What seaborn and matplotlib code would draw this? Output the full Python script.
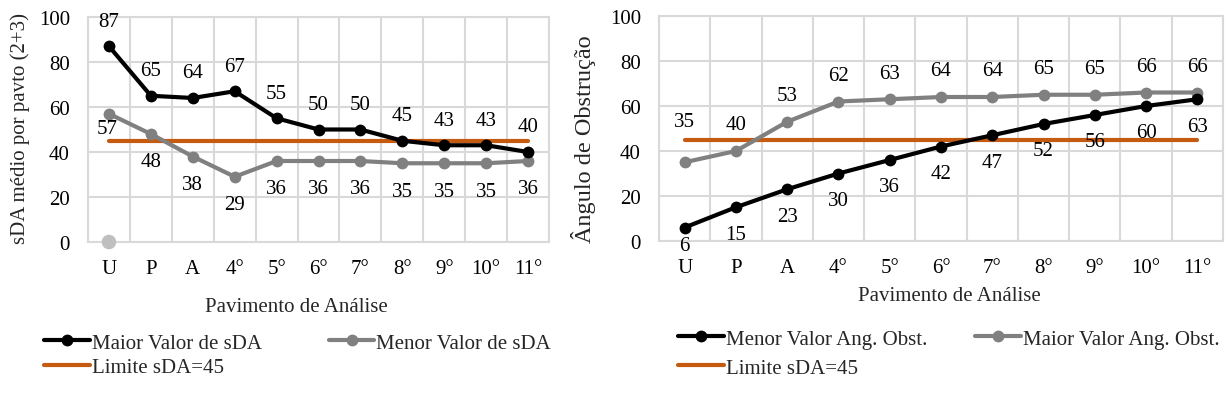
import numpy as np
import matplotlib
matplotlib.use("Agg")
import matplotlib.pyplot as plt
import seaborn as sns

# Floors analysed (U, P, A, then 4th to 11th)
floors = ["U", "P", "A", "4°", "5°", "6°", "7°", "8°", "9°", "10°", "11°"]

# Left panel: sDA per floor
maior_sda = [87, 65, 64, 67, 55, 50, 50, 45, 43, 43, 40]
menor_sda = [57, 48, 38, 29, 36, 36, 36, 35, 35, 35, 36]
limite_sda = [45, 45, 45, 45, 45, 45, 45, 45, 45, 45, 45]
ponto_extra_cat = ["U"]
ponto_extra_val = [0]

# Right panel: obstruction angle per floor
menor_ang = [6, 15, 23, 30, 36, 42, 47, 52, 56, 60, 63]
maior_ang = [35, 40, 53, 62, 63, 64, 64, 65, 65, 66, 66]

sns.set_theme(style="white")
plt.rcParams["font.family"] = ["Liberation Serif", "DejaVu Serif"]
plt.rcParams["font.size"] = 15

BLACK = "#000000"
GRAY = "#808080"
ORANGE = "#C55A11"
GRID = "#D9D9D9"
FS = 15

W, H = 1225, 410
fig = plt.figure(figsize=(W / 100, H / 100), dpi=100)


def px_axes(x0, y0, x1, y1):
    return fig.add_axes([x0 / W, 1 - y1 / H, (x1 - x0) / W, (y1 - y0) / H])


ax1 = px_axes(88, 18, 549, 243)
ax2 = px_axes(659, 17, 1223, 242)


def style_axes(ax):
    ax.set_xlim(-0.5, len(floors) - 0.5)
    ax.set_ylim(0, 100)
    ax.set_yticks([0, 20, 40, 60, 80, 100])
    ax.set_xticks(range(len(floors)))
    ax.set_xticklabels(floors)
    ax.set_xticks(np.arange(-0.5, len(floors), 1), minor=True)
    ax.grid(False)
    ax.yaxis.grid(True, which="major", color=GRID, linewidth=1.5)
    ax.xaxis.grid(True, which="minor", color=GRID, linewidth=1.5)
    ax.set_axisbelow(True)
    for sp in ax.spines.values():
        sp.set_color(GRID)
        sp.set_linewidth(1.5)
    ax.tick_params(axis="both", which="both", length=0, labelsize=FS, colors="#000000")
    ax.tick_params(axis="y", pad=13)
    ax.tick_params(axis="x", pad=12)
    ax.set_xlabel("")
    ax.set_ylabel("")


def series(ax, y, color, label, marker=True, ms=8.5, lw=3):
    kw = dict(marker="o", markersize=ms, markeredgewidth=0) if marker else {}
    sns.lineplot(x=floors, y=y, color=color, linewidth=lw, sort=False,
                 label=label, ax=ax, **kw)


def labels(ax, y, dy, tweaks=None):
    tweaks = tweaks or {}
    for i, v in enumerate(y):
        dx, ddy = tweaks.get(i, (0, dy))
        ax.annotate(str(v), (i, v), xytext=(dx, ddy), textcoords="offset pixels",
                    ha="center", va="center", fontsize=FS, color="#000000")


# ---- left panel ----
series(ax1, limite_sda, ORANGE, "Limite sDA=45", marker=False)
series(ax1, menor_sda, GRAY, "Menor Valor de sDA")
series(ax1, maior_sda, BLACK, "Maior Valor de sDA")
sns.scatterplot(x=ponto_extra_cat, y=ponto_extra_val, color="#BFBFBF", s=110,
                edgecolor="none", ax=ax1, legend=False, clip_on=False, zorder=5)
style_axes(ax1)
labels(ax1, maior_sda, 25)
labels(ax1, menor_sda, -28, {0: (-2, -15)})

# ---- right panel ----
series(ax2, limite_sda, ORANGE, "Limite sDA=45", marker=False)
series(ax2, maior_ang, GRAY, "Maior Valor Ang. Obst.")
series(ax2, menor_ang, BLACK, "Menor Valor Ang. Obst.")
style_axes(ax2)
labels(ax2, maior_ang, 26, {0: (0, 41)})
labels(ax2, menor_ang, -27, {0: (0, -18)})

# Legends: black, orange in the first column, gray in the second
def panel_legend(ax, order, x0, y_top, colspace, lspace):
    h, l = ax.get_legend_handles_labels()
    ax.get_legend().remove()
    d = dict(zip(l, h))
    fig.legend([d[k] for k in order], order, loc="upper left",
               bbox_to_anchor=(x0 / W, 1 - y_top / H), ncol=2, frameon=False,
               borderaxespad=0, borderpad=0, handlelength=2.2,
               handletextpad=0.1, columnspacing=colspace, labelspacing=lspace,
               fontsize=FS)


panel_legend(ax1, ["Maior Valor de sDA", "Limite sDA=45", "Menor Valor de sDA"],
             44, 334, 3.2, 0.25)
panel_legend(ax2, ["Menor Valor Ang. Obst.", "Limite sDA=45", "Maior Valor Ang. Obst."],
             678, 330, 2.3, 0.45)

# Axis titles
fig.text(296 / W, 1 - 308 / H, "Pavimento de Análise", ha="center", va="center", fontsize=FS)
fig.text(949 / W, 1 - 297 / H, "Pavimento de Análise", ha="center", va="center", fontsize=FS)
fig.text(20 / W, 1 - 129 / H, "sDA médio por pavto (2+3)", rotation=90,
         ha="center", va="center", fontsize=FS)
fig.text(584 / W, 1 - 243 / H, "Ângulo de Obstrução", rotation=90,
         ha="center", va="bottom", fontsize=17.5)

fig.savefig("out.png", dpi=100, facecolor="white")
